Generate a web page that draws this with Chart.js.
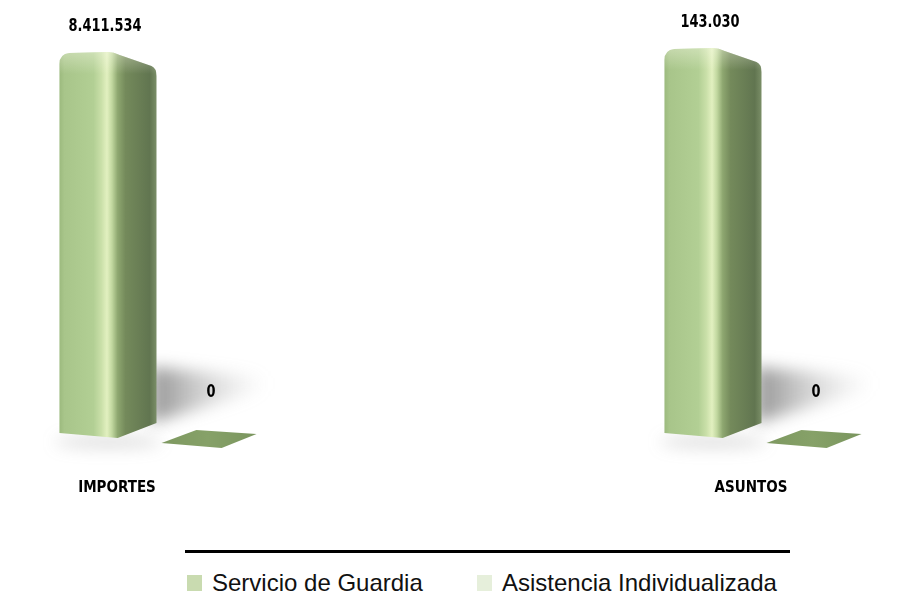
<!DOCTYPE html>
<html>
<head>
<meta charset="utf-8">
<script src="https://cdn.jsdelivr.net/npm/chart.js@4/dist/chart.umd.min.js"></script>
<style>
  html, body { margin: 0; padding: 0; background: #ffffff; }
  body { width: 909px; height: 594px; position: relative; overflow: hidden; }
  .wrap { position: absolute; top: 0; }
  #legendLine { position: absolute; left: 185px; top: 550px; width: 605px; height: 3px; background: #000; }
  .leg { position: absolute; top: 569px; height: 28px; display: flex; align-items: center;
         font-family: 'Liberation Sans', Arial, sans-serif; font-size: 24px; color: #111; white-space: nowrap; }
  .leg .box { width: 15px; height: 16px; margin-right: 10px; }
</style>
</head>
<body>
<div class="wrap" id="wrapA" style="left:13px;width:290px;height:537px;"><canvas id="chartA"></canvas></div>
<div class="wrap" id="wrapB" style="left:618px;width:290px;height:537px;"><canvas id="chartB"></canvas></div>
<div id="legendLine"></div>
<div class="leg" id="leg0" style="left:187px;"></div>
<div class="leg" id="leg1" style="left:477px;"></div>
<script>
// ---- data ----
const categories = ['IMPORTES', 'ASUNTOS'];
const seriesNames = ['Servicio de Guardia', 'Asistencia Individualizada'];
const servicioGuardia = [8411534, 143030];
const asistenciaIndividualizada = [0, 0];
const seriesColors = ['#c9dbb0', '#e6efdb'];

const LABEL_FONT = "bold 18px 'DejaVu Sans Condensed', 'Liberation Sans Narrow', sans-serif";

function fmt(v) {
  return v.toString().replace(/\B(?=(\d{3})+(?!\d))/g, '.');
}

function drawLabel(ctx, text, x, y) {
  ctx.save();
  ctx.translate(x, y);
  ctx.scale(0.8, 1);
  ctx.fillStyle = '#000';
  ctx.font = LABEL_FONT;
  ctx.textAlign = 'center';
  ctx.textBaseline = 'middle';
  ctx.fillText(text, 0, 0);
  ctx.restore();
}

// 3D-looking bar renderer + labels
const bar3d = {
  id: 'bar3d',
  beforeDatasetDraw() { return false; },
  afterDatasetsDraw(chart) {
    const ctx = chart.ctx;
    chart.data.datasets.forEach((ds, di) => {
      const meta = chart.getDatasetMeta(di);
      meta.data.forEach((el, i) => {
        const v = ds.data[i];
        const w = el.width, L = el.x - w / 2, R = el.x + w / 2;
        const t = el.y, b = el.base;
        ctx.save();
        if (v > 0) {
          // soft cast shadow streak to the right
          ctx.save();
          ctx.filter = 'blur(8px)';
          const sg = ctx.createLinearGradient(R, 0, R + 110, 0);
          sg.addColorStop(0, 'rgba(70,70,70,0.55)');
          sg.addColorStop(0.5, 'rgba(110,110,110,0.25)');
          sg.addColorStop(1, 'rgba(150,150,150,0)');
          ctx.fillStyle = sg;
          ctx.beginPath();
          ctx.moveTo(R - 6, b - 72);
          ctx.lineTo(R + 110, b - 62);
          ctx.lineTo(R + 110, b - 50);
          ctx.lineTo(R - 6, b - 16);
          ctx.closePath();
          ctx.fill();
          ctx.fillStyle = 'rgba(120,120,120,0.25)';
          ctx.beginPath();
          ctx.ellipse(el.x, b + 3, w * 0.55, 6, 0, 0, Math.PI * 2);
          ctx.fill();
          ctx.restore();
          // body
          const g = ctx.createLinearGradient(L, 0, R, 0);
          g.addColorStop(0.00, '#9cba7e');
          g.addColorStop(0.05, '#a8c58a');
          g.addColorStop(0.35, '#b2cf94');
          g.addColorStop(0.43, '#c9dfa8');
          g.addColorStop(0.49, '#e2f0c0');
          g.addColorStop(0.54, '#c2d8a0');
          g.addColorStop(0.60, '#8ea770');
          g.addColorStop(0.68, '#748a5b');
          g.addColorStop(0.93, '#617550');
          g.addColorStop(1.00, '#7a8e67');
          ctx.fillStyle = g;
          ctx.beginPath();
          ctx.moveTo(L, t + 12);
          ctx.quadraticCurveTo(L, t + 2, L + 10, t + 1);
          ctx.lineTo(L + 0.5 * w, t);
          ctx.quadraticCurveTo(L + 0.56 * w, t, L + 0.62 * w, t + 3);
          ctx.lineTo(R - 5, t + 14);
          ctx.quadraticCurveTo(R, t + 16, R, t + 24);
          ctx.lineTo(R, b - 16);
          ctx.lineTo(L + 0.6 * w, b - 1);
          ctx.lineTo(L, b - 6);
          ctx.closePath();
          ctx.fill();
          // top shading
          const tg = ctx.createLinearGradient(0, t, 0, t + 22);
          tg.addColorStop(0, 'rgba(255,255,240,0.35)');
          tg.addColorStop(1, 'rgba(255,255,240,0)');
          ctx.fillStyle = tg;
          ctx.fill();
          drawLabel(ctx, fmt(v), el.x - 3, t - 26);
        } else {
          // flat base of a zero-height bar
          const pg = ctx.createLinearGradient(L, 0, R, 0);
          pg.addColorStop(0, '#7d9860');
          pg.addColorStop(0.5, '#86a168');
          pg.addColorStop(1, '#7a955e');
          ctx.fillStyle = pg;
          ctx.beginPath();
          ctx.moveTo(L + 2, b + 4);
          ctx.lineTo(L + 0.38 * w, b - 9);
          ctx.lineTo(R, b - 5);
          ctx.lineTo(L + 0.64 * w, b + 9);
          ctx.closePath();
          ctx.fill();
          drawLabel(ctx, fmt(v), el.x + 3, b - 47);
        }
        ctx.restore();
      });
    });
  }
};

function makeChart(canvasId, idx, labelOffset, topPad) {
  return new Chart(document.getElementById(canvasId), {
    type: 'bar',
    data: {
      labels: [categories[idx]],
      datasets: [
        { label: seriesNames[0], data: [servicioGuardia[idx]], backgroundColor: seriesColors[0] },
        { label: seriesNames[1], data: [asistenciaIndividualizada[idx]], backgroundColor: seriesColors[1] }
      ]
    },
    options: {
      responsive: true,
      maintainAspectRatio: false,
      animation: false,
      layout: { padding: { top: topPad, left: 0, right: 0, bottom: 0 } },
      datasets: { bar: { categoryPercentage: 0.69, barPercentage: 0.97 } },
      plugins: { legend: { display: false }, tooltip: { enabled: false } },
      scales: {
        x: {
          grid: { display: false, drawTicks: false },
          border: { display: false },
          ticks: {
            padding: 40,
            labelOffset: labelOffset,
            color: '#000',
            font: { family: "'DejaVu Sans Condensed', 'Liberation Sans Narrow', sans-serif", size: 15, weight: 'bold' }
          }
        },
        y: {
          display: false,
          min: 0,
          max: Math.max(servicioGuardia[idx], asistenciaIndividualizada[idx])
        }
      }
    },
    plugins: [bar3d]
  });
}

makeChart('chartA', 0, -41, 52);
makeChart('chartB', 1, -12, 48);

// legend
seriesNames.forEach((n, i) => {
  const el = document.getElementById('leg' + i);
  const box = document.createElement('span');
  box.className = 'box';
  box.style.background = seriesColors[i];
  const txt = document.createElement('span');
  txt.textContent = n;
  el.appendChild(box);
  el.appendChild(txt);
});
</script>
</body>
</html>
